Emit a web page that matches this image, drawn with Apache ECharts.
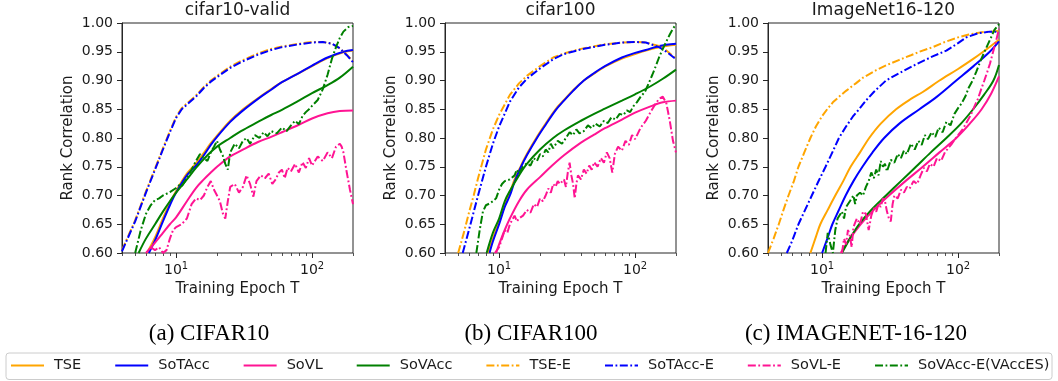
<!DOCTYPE html>
<html>
<head>
<meta charset="utf-8">
<script src="https://cdn.jsdelivr.net/npm/echarts@6/dist/echarts.min.js"></script>
<style>
  html, body { margin: 0; padding: 0; background: #fff; }
  #chart { width: 1058px; height: 381px; }
</style>
</head>
<body>
<div id="chart"></div>
<script>
// ---- data: [epoch, rank correlation] ----
const panelTitles = ['cifar10-valid', 'cifar100', 'ImageNet16-120'];
const panelCaptions = ['(a) CIFAR10', '(b) CIFAR100', '(c) IMAGENET-16-120'];
const seriesNames = ['TSE', 'SoTAcc', 'SoVL', 'SoVAcc', 'TSE-E', 'SoTAcc-E', 'SoVL-E', 'SoVAcc-E(VAccES)'];
const epochRange = [4, 200];
const yTicks = [0.60, 0.65, 0.70, 0.75, 0.80, 0.85, 0.90, 0.95, 1.00];
const majorEpochTicks = [10, 100];
const minorEpochTicks = [4, 5, 6, 7, 8, 9, 20, 30, 40, 50, 60, 70, 80, 90, 200];

// cifar10-valid
const c10_TSE = [[6.1,0.60],[7,0.627],[8,0.66],[9,0.687],[10,0.708],[12,0.738],[14,0.756],[16,0.774],[18,0.791],[20,0.804],[25,0.83],[30,0.847],[40,0.869],[50,0.885],[60,0.897],[80,0.913],[100,0.925],[130,0.939],[170,0.949],[200,0.952]];
const c10_SoTAcc = [[6.3,0.60],[7,0.622],[8,0.655],[9,0.683],[10,0.705],[12,0.735],[14,0.752],[16,0.770],[18,0.788],[20,0.802],[25,0.828],[30,0.845],[40,0.868],[50,0.884],[60,0.897],[80,0.913],[100,0.926],[130,0.940],[170,0.950],[200,0.953]];
const c10_SoVL = [[6,0.60],[7,0.618],[8,0.635],[9,0.65],[10,0.662],[12,0.69],[14,0.713],[16,0.728],[18,0.74],[20,0.750],[25,0.768],[30,0.778],[40,0.793],[50,0.802],[60,0.810],[80,0.823],[100,0.834],[130,0.843],[160,0.847],[200,0.848]];
const c10_SoVAcc = [[5.3,0.60],[6,0.625],[7,0.650],[8,0.672],[9,0.690],[10,0.705],[12,0.728],[14,0.748],[17,0.770],[20,0.785],[25,0.800],[30,0.812],[40,0.828],[50,0.840],[60,0.849],[80,0.865],[100,0.878],[130,0.892],[160,0.905],[200,0.924]];
const c10_TSE_E = [[4,0.605],[5,0.657],[6,0.707],[7,0.747],[8,0.782],[9,0.812],[10,0.837],[11,0.852],[12,0.86],[14,0.874],[16,0.889],[18,0.9],[20,0.908],[25,0.924],[30,0.934],[40,0.947],[50,0.955],[60,0.959],[80,0.964],[100,0.967],[120,0.967],[140,0.964],[160,0.956],[180,0.945],[200,0.933]];
const c10_SoTAcc_E = [[4,0.603],[5,0.655],[6,0.705],[7,0.745],[8,0.78],[9,0.81],[10,0.835],[11,0.85],[12,0.858],[14,0.872],[16,0.887],[18,0.898],[20,0.906],[25,0.922],[30,0.932],[40,0.945],[50,0.953],[60,0.958],[80,0.963],[100,0.966],[120,0.967],[140,0.964],[160,0.956],[180,0.944],[200,0.932]];
const c10_SoVL_E = [[6.5,0.61],[7,0.605],[7.5,0.61],[8,0.60],[8.5,0.605],[9,0.625],[9.5,0.64],[10,0.645],[11,0.65],[12,0.66],[13,0.685],[14,0.695],[15,0.692],[16,0.70],[17,0.715],[18,0.725],[19,0.71],[20,0.70],[21,0.69],[22,0.67],[23,0.66],[24,0.69],[25,0.715],[27,0.72],[29,0.705],[31,0.715],[33,0.735],[35,0.72],[37,0.698],[39,0.725],[42,0.735],[45,0.73],[48,0.738],[51,0.72],[54,0.728],[57,0.74],[60,0.745],[63,0.73],[66,0.748],[70,0.742],[75,0.755],[80,0.74],[85,0.758],[90,0.748],[95,0.765],[100,0.752],[110,0.768],[120,0.76],[130,0.775],[140,0.765],[150,0.785],[160,0.79],[165,0.785],[170,0.775],[180,0.74],[190,0.71],[200,0.685]];
const c10_SoVAcc_E = [[5,0.60],[5.5,0.64],[6,0.668],[6.5,0.683],[7,0.692],[7.5,0.695],[8,0.70],[8.5,0.703],[9,0.706],[10,0.713],[10.5,0.718],[11,0.716],[12,0.73],[13,0.745],[14,0.76],[15,0.772],[16,0.765],[17,0.76],[18,0.775],[19,0.785],[20,0.795],[21,0.78],[22,0.77],[23,0.755],[24,0.745],[25,0.775],[27,0.79],[29,0.782],[31,0.795],[33,0.8],[35,0.79],[38,0.805],[41,0.8],[44,0.81],[47,0.803],[50,0.812],[55,0.808],[60,0.818],[65,0.812],[70,0.822],[75,0.83],[80,0.824],[85,0.838],[90,0.845],[95,0.85],[100,0.856],[110,0.866],[120,0.885],[130,0.91],[140,0.938],[150,0.958],[160,0.974],[170,0.985],[185,0.993],[200,0.995]];

// cifar100
const c100_TSE = [[8.3,0.60],[9,0.625],[10,0.655],[11,0.683],[12,0.705],[13,0.728],[14.5,0.752],[16,0.772],[19,0.802],[22,0.825],[26,0.85],[30,0.866],[35,0.883],[42,0.90],[50,0.912],[60,0.924],[80,0.938],[100,0.946],[120,0.952],[150,0.958],[200,0.962]];
const c100_SoTAcc = [[8.5,0.60],[9,0.62],[10,0.65],[11,0.68],[12,0.70],[13,0.724],[14.5,0.75],[16,0.77],[19,0.80],[22,0.823],[26,0.848],[30,0.865],[35,0.882],[42,0.90],[50,0.913],[60,0.925],[80,0.94],[100,0.948],[120,0.953],[150,0.96],[200,0.964]];
const c100_SoVL = [[9.5,0.60],[10,0.615],[11,0.64],[12,0.66],[14,0.69],[16,0.71],[20,0.732],[24,0.75],[30,0.77],[40,0.792],[50,0.806],[60,0.817],[80,0.832],[100,0.844],[130,0.855],[160,0.862],[200,0.865]];
const c100_SoVAcc = [[8.1,0.60],[9,0.635],[10,0.66],[11,0.69],[12,0.708],[14,0.735],[16,0.755],[20,0.78],[25,0.80],[30,0.813],[40,0.83],[50,0.842],[60,0.851],[80,0.865],[100,0.876],[130,0.89],[160,0.903],[200,0.919]];
const c100_TSE_E = [[5,0.60],[5.5,0.635],[6,0.67],[6.5,0.70],[7,0.73],[8,0.78],[9,0.815],[10,0.84],[12,0.875],[14,0.895],[16,0.908],[20,0.925],[25,0.94],[30,0.947],[40,0.955],[60,0.963],[80,0.966],[100,0.967],[120,0.966],[150,0.960],[170,0.952],[200,0.938]];
const c100_SoTAcc_E = [[5.4,0.60],[6,0.64],[7,0.70],[8,0.75],[9,0.79],[10,0.82],[12,0.863],[14,0.888],[16,0.903],[20,0.921],[25,0.937],[30,0.946],[40,0.954],[60,0.962],[80,0.966],[100,0.967],[120,0.966],[150,0.958],[170,0.950],[200,0.937]];
const c100_SoVL_E = [[9.3,0.60],[10,0.61],[10.5,0.625],[11,0.64],[11.5,0.635],[12,0.65],[13,0.665],[13.5,0.655],[14,0.66],[15,0.665],[16,0.675],[17,0.67],[18,0.685],[19,0.68],[20,0.695],[21,0.69],[22,0.70],[23,0.712],[24,0.705],[25,0.72],[26,0.715],[27,0.725],[28,0.72],[30,0.728],[31,0.715],[32,0.74],[33,0.757],[34,0.735],[35,0.72],[36,0.695],[37,0.72],[38,0.735],[40,0.728],[42,0.745],[44,0.738],[46,0.752],[48,0.745],[50,0.758],[53,0.75],[56,0.765],[59,0.757],[62,0.775],[65,0.765],[68,0.74],[71,0.772],[75,0.785],[80,0.778],[85,0.795],[90,0.788],[95,0.805],[100,0.798],[110,0.818],[120,0.83],[130,0.845],[140,0.858],[150,0.868],[160,0.872],[165,0.87],[170,0.86],[180,0.83],[190,0.795],[200,0.775]];
const c100_SoVAcc_E = [[6.8,0.60],[7.2,0.64],[7.6,0.672],[8,0.683],[8.5,0.686],[9,0.69],[9.5,0.695],[10,0.71],[10.5,0.72],[11,0.725],[12,0.728],[13,0.735],[13.5,0.745],[14,0.738],[15,0.75],[16,0.756],[17,0.752],[18,0.765],[19,0.76],[20,0.772],[21,0.768],[22,0.78],[23,0.775],[24,0.79],[25,0.782],[27,0.795],[29,0.79],[31,0.8],[33,0.81],[35,0.805],[37,0.815],[39,0.808],[42,0.812],[45,0.822],[48,0.817],[51,0.825],[55,0.82],[59,0.83],[63,0.826],[67,0.836],[72,0.832],[77,0.842],[82,0.84],[87,0.848],[92,0.845],[97,0.855],[103,0.862],[110,0.872],[118,0.88],[126,0.895],[134,0.91],[142,0.925],[150,0.94],[160,0.955],[170,0.968],[180,0.98],[190,0.99],[200,0.998]];

// ImageNet16-120
const in16_TSE = [[8.2,0.60],[9,0.628],[9.7,0.65],[11,0.675],[12.5,0.70],[14.3,0.725],[16.2,0.75],[19,0.775],[22.2,0.80],[27,0.825],[35,0.85],[45,0.868],[55,0.88],[73,0.90],[100,0.92],[130,0.938],[153,0.95],[200,0.971]];
const in16_SoTAcc = [[10,0.60],[11,0.627],[11.9,0.65],[13.3,0.675],[14.9,0.70],[17,0.725],[19.8,0.75],[23.5,0.775],[28.6,0.80],[37,0.825],[52,0.85],[70,0.872],[97,0.90],[130,0.925],[171,0.95],[200,0.968]];
const in16_SoVL = [[13.7,0.60],[16,0.625],[19.2,0.65],[24,0.675],[31,0.70],[41,0.725],[55,0.75],[73,0.775],[97,0.80],[122,0.825],[149,0.85],[175,0.877],[200,0.907]];
const in16_SoVAcc = [[14,0.60],[16,0.625],[18.7,0.65],[23,0.675],[29.5,0.70],[38,0.725],[49,0.75],[63,0.775],[82,0.80],[105,0.825],[129,0.85],[155,0.875],[182,0.90],[200,0.927]];
const in16_TSE_E = [[4,0.60],[4.4,0.625],[4.8,0.65],[5.2,0.675],[5.66,0.70],[6.2,0.725],[6.7,0.75],[7.4,0.775],[8.2,0.80],[9,0.82],[10,0.838],[10.9,0.85],[12,0.862],[13.5,0.873],[15,0.882],[17.7,0.895],[20,0.905],[25,0.918],[30,0.927],[37,0.936],[45,0.944],[52,0.95],[65,0.958],[80,0.967],[100,0.975],[120,0.98],[150,0.984],[200,0.986]];
const in16_SoTAcc_E = [[5.5,0.60],[6,0.62],[6.7,0.65],[7.5,0.675],[8.4,0.70],[9.5,0.727],[10.6,0.75],[12,0.777],[13.3,0.80],[15,0.82],[16.8,0.837],[18.7,0.85],[21,0.865],[24,0.88],[29.5,0.90],[37,0.913],[49,0.928],[65,0.942],[82,0.952],[100,0.965],[115,0.975],[140,0.982],[170,0.985],[200,0.985]];
const in16_SoVL_E = [[14,0.60],[14.5,0.625],[15,0.615],[15.5,0.64],[16,0.63],[16.5,0.61],[17,0.645],[18,0.66],[19,0.65],[20,0.672],[21,0.668],[22,0.64],[23,0.665],[24,0.678],[25,0.672],[26,0.685],[27,0.68],[28,0.695],[29,0.69],[30,0.672],[31,0.66],[32,0.655],[33,0.685],[34,0.70],[36,0.695],[38,0.71],[40,0.705],[42,0.715],[44,0.712],[47,0.725],[50,0.72],[53,0.735],[56,0.748],[59,0.742],[62,0.755],[66,0.75],[70,0.765],[75,0.76],[80,0.775],[85,0.783],[90,0.79],[95,0.798],[100,0.805],[108,0.815],[116,0.828],[124,0.84],[132,0.855],[140,0.868],[148,0.885],[156,0.9],[164,0.915],[172,0.93],[180,0.948],[190,0.968],[200,0.99]];
const in16_SoVAcc_E = [[10.6,0.60],[11,0.635],[11.5,0.615],[12,0.60],[12.5,0.64],[13,0.66],[14,0.672],[14.5,0.66],[15,0.68],[16,0.69],[17,0.70],[17.5,0.685],[18,0.70],[19,0.705],[20,0.70],[21,0.715],[22,0.725],[23,0.74],[24,0.73],[25,0.745],[26,0.735],[27,0.76],[28,0.75],[29,0.755],[30,0.742],[32,0.762],[34,0.757],[36,0.772],[38,0.765],[40,0.778],[42,0.772],[45,0.79],[48,0.78],[51,0.795],[54,0.788],[57,0.805],[60,0.798],[64,0.81],[68,0.802],[72,0.818],[77,0.81],[82,0.828],[88,0.822],[94,0.842],[100,0.852],[106,0.86],[113,0.872],[120,0.888],[128,0.9],[136,0.915],[145,0.932],[155,0.948],[165,0.962],[175,0.975],[185,0.988],[200,0.998]];

const panelData = [
  [c10_TSE, c10_SoTAcc, c10_SoVL, c10_SoVAcc, c10_TSE_E, c10_SoTAcc_E, c10_SoVL_E, c10_SoVAcc_E],
  [c100_TSE, c100_SoTAcc, c100_SoVL, c100_SoVAcc, c100_TSE_E, c100_SoTAcc_E, c100_SoVL_E, c100_SoVAcc_E],
  [in16_TSE, in16_SoTAcc, in16_SoVL, in16_SoVAcc, in16_TSE_E, in16_SoTAcc_E, in16_SoVL_E, in16_SoVAcc_E]
];

// ---- styling ----
const seriesColors = ['#FFA500', '#0000FF', '#FF1493', '#008000', '#FFA500', '#0000FF', '#FF1493', '#008000'];
const dashDot = [8, 2.5, 1.8, 2.5];
const ink = '#1a1a1a';
const frame = '#262626';
const panelLefts = [122, 445, 768];
const panelWidth = 231;
const panelTop = 23;
const panelHeight = 230;
const captionCenters = [209, 531, 856];

const grid = [], xAxis = [], yAxis = [], series = [], graphic = [];
const logLo = Math.log10(epochRange[0]), logHi = Math.log10(epochRange[1]);

panelLefts.forEach((left, p) => {
  grid.push({ left: left, top: panelTop, width: panelWidth, height: panelHeight,
              show: true, borderColor: frame, borderWidth: 1, containLabel: false });

  // data axis (log scale), carries the series
  xAxis.push({ type: 'log', logBase: 10, gridIndex: p, min: epochRange[0], max: epochRange[1],
               show: false });
  // major decade ticks and labels, placed in log10 space
  xAxis.push({ type: 'value', gridIndex: p, min: logLo, max: logHi, position: 'bottom',
               axisLine: { show: false, onZero: false }, splitLine: { show: false },
               axisTick: { show: true, length: 5, customValues: majorEpochTicks.map(Math.log10),
                           lineStyle: { color: frame, width: 1 } },
               axisLabel: { customValues: majorEpochTicks.map(Math.log10), margin: 8,
                            color: ink, fontSize: 14, fontFamily: 'DejaVu Sans',
                            formatter: v => '10{s|' + Math.round(v) + '}',
                            rich: { s: { fontSize: 10, fontFamily: 'DejaVu Sans', color: ink,
                                         padding: [0, 0, 8, 0] } } },
               name: 'Training Epoch T', nameLocation: 'middle', nameGap: 29,
               nameTextStyle: { color: ink, fontSize: 15, fontFamily: 'DejaVu Sans' } });
  // minor ticks
  xAxis.push({ type: 'value', gridIndex: p, min: logLo, max: logHi, position: 'bottom',
               axisLine: { show: false, onZero: false }, splitLine: { show: false },
               axisTick: { show: true, length: 3, customValues: minorEpochTicks.map(Math.log10),
                           lineStyle: { color: frame, width: 0.8 } },
               axisLabel: { show: false } });

  yAxis.push({ type: 'value', gridIndex: p, min: 0.6, max: 1.0, interval: 0.05,
               axisLine: { show: true, lineStyle: { color: frame } },
               splitLine: { show: false },
               axisTick: { show: true, length: 5, lineStyle: { color: frame } },
               axisLabel: { color: ink, fontSize: 14, fontFamily: 'DejaVu Sans', margin: 9,
                            formatter: v => v.toFixed(2) },
               name: 'Rank Correlation', nameLocation: 'middle', nameGap: 46,
               nameTextStyle: { color: ink, fontSize: 15, fontFamily: 'DejaVu Sans' } });

  panelData[p].forEach((pts, k) => {
    series.push({
      type: 'line', name: seriesNames[k], data: pts,
      xAxisIndex: p * 3, yAxisIndex: p,
      symbol: 'none', smooth: k < 4 ? 0.35 : false, clip: true,
      lineStyle: { color: seriesColors[k], width: 2, type: k < 4 ? 'solid' : dashDot },
      itemStyle: { color: seriesColors[k] },
      emphasis: { disabled: true }, animation: false
    });
  });

  graphic.push({ type: 'text', x: left + panelWidth / 2, y: 11,
                 style: { text: panelTitles[p], fill: ink, font: '17px "DejaVu Sans"',
                          align: 'center', verticalAlign: 'middle' } });
  graphic.push({ type: 'text', x: captionCenters[p], y: 334,
                 style: { text: panelCaptions[p], fill: '#000', font: '23px "Liberation Serif"',
                          align: 'center', verticalAlign: 'middle' } });
});

// legend frame
graphic.push({ type: 'rect', shape: { x: 6, y: 353, width: 1046, height: 26.5, r: 3 },
               style: { fill: '#fff', stroke: '#cccccc', lineWidth: 1 }, z: -1 });

const chart = echarts.init(document.getElementById('chart'), null, { renderer: 'canvas' });
chart.setOption({
  backgroundColor: '#fff',
  animation: false,
  grid, xAxis, yAxis, series, graphic,
  legend: {
    data: seriesNames, left: 10, top: 358, itemWidth: 33, itemHeight: 14, itemGap: 33,
    padding: 0, selectedMode: false,
    itemStyle: { color: 'rgba(0,0,0,0)', borderWidth: 0, opacity: 0 },
    lineStyle: { width: 2 },
    textStyle: { color: ink, fontSize: 14.5, fontFamily: 'DejaVu Sans', padding: [0, 0, 0, 5] }
  }
});
</script>
</body>
</html>
